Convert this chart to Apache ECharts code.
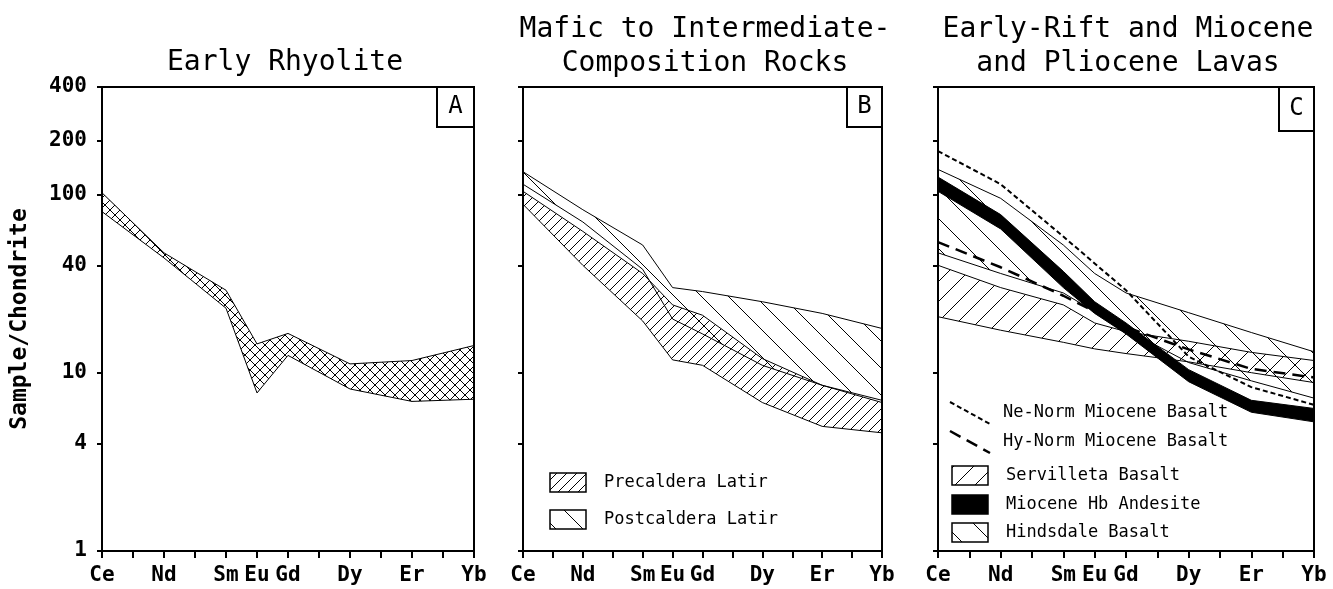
<!DOCTYPE html>
<html>
<head>
<meta charset="utf-8">
<title>REE patterns</title>
<script src="https://cdn.jsdelivr.net/npm/echarts@6/dist/echarts.min.js"></script>
<style>
    html, body { margin: 0; padding: 0; width: 100%; height: 100%; background: #fff; }
    #chart { width: 1333px; height: 589px; }
</style>
</head>
<body>
<div id="chart"></div>
<script>
// elements, placed by atomic number
var elemX = [58, 60, 62, 63, 64, 66, 68, 70];
var elemLabels = ['Ce', 'Nd', 'Sm', 'Eu', 'Gd', 'Dy', 'Er', 'Yb'];
var xTicks = [58, 59, 60, 61, 62, 63, 64, 65, 66, 67, 68, 69, 70];
var yTicks = [1, 4, 10, 40, 100, 200, 400];

// A - early rhyolite (range)
var rhyHigh = [102, 47, 29, 14.5, 16.6, 11.2, 11.7, 14.2];
var rhyLow  = [80, 44, 23, 7.7, 12.5, 8.1, 6.9, 7.1];

// B - latites (ranges)
var preHigh  = [104, 62, 36, 24, 21, 12, 8.5, 6.8];
var preLow   = [88, 40, 19.5, 11.8, 11, 6.8, 5.0, 4.6];
var postHigh = [134, 82, 52, 30, 28.5, 25, 21.5, 17.7];
var postLow  = [114, 70, 38, 20, 16.5, 11, 8.5, 7.0];

// C - rift lavas
var neNorm   = [175, 114, 58, 41, 29, 12.3, 8.3, 6.6];
var hyNorm   = [54, 39, 27, 22, 18, 13.5, 10.5, 9.4];
var servHigh = [40, 30, 24, 19, 17, 15, 13, 11.7];
var servLow  = [20.6, 17.3, 14.8, 13.6, 12.8, 11.5, 10, 8.8];
var hbHigh   = [125, 77, 37, 25, 19, 10.4, 7.0, 6.3];
var hbLow    = [104, 64, 30, 21.5, 16.5, 8.9, 6.0, 5.3];
var hindHigh = [138, 95, 52, 36, 28, 21.7, 16.8, 13.1];
var hindLow  = [47, 36, 28, 22, 17.5, 11.4, 9.0, 7.2];

var MONO = 'DejaVu Sans Mono';

// hatch fills
function hatch(step, fwd, back) {
    var c = document.createElement('canvas');
    c.width = c.height = step;
    var g = c.getContext('2d');
    g.strokeStyle = '#000';
    g.lineWidth = 1;
    g.beginPath();
    if (fwd) {
        g.moveTo(-1, step + 1); g.lineTo(step + 1, -1);
        g.moveTo(-1, 1); g.lineTo(1, -1);
        g.moveTo(step - 1, step + 1); g.lineTo(step + 1, step - 1);
    }
    if (back) {
        g.moveTo(-1, -1); g.lineTo(step + 1, step + 1);
        g.moveTo(step - 1, -1); g.lineTo(step + 1, 1);
        g.moveTo(-1, step - 1); g.lineTo(1, step + 1);
    }
    g.stroke();
    return { image: c, repeat: 'repeat' };
}
var crossFill = hatch(10, true, true);
var preFill   = hatch(10, true, false);
var postFill  = hatch(27, false, true);
var servFill  = hatch(20, true, false);
var hindFill  = hatch(30, false, true);

var grids = [
    { left: 102, top: 87, width: 372, height: 464 },
    { left: 523, top: 87, width: 359, height: 464 },
    { left: 938, top: 87, width: 376, height: 464 }
];

function xAxis(i) {
    return {
        type: 'value', gridIndex: i, min: 58, max: 70, interval: 1,
        axisLine: { show: true, lineStyle: { color: '#000', width: 2 } },
        axisTick: { show: true, length: 7, customValues: xTicks, lineStyle: { color: '#000', width: 2 } },
        axisLabel: {
            customValues: elemX, margin: 14, color: '#000',
            fontFamily: MONO, fontWeight: 'bold', fontSize: 21,
            formatter: function (v) { return elemLabels[elemX.indexOf(v)]; }
        },
        splitLine: { show: false }
    };
}
function yAxis(i) {
    return {
        type: 'log', gridIndex: i, min: 1, max: 400,
        name: i === 0 ? 'Sample/Chondrite' : '',
        nameLocation: 'middle', nameGap: 70,
        nameTextStyle: { fontFamily: MONO, fontWeight: 'bold', fontSize: 23, color: '#000' },
        axisLine: { show: true, lineStyle: { color: '#000', width: 2 } },
        axisTick: { show: true, length: 5, customValues: yTicks, lineStyle: { color: '#000', width: 2 } },
        axisLabel: {
            show: i === 0, customValues: yTicks, margin: 15, color: '#000',
            fontFamily: MONO, fontWeight: 'bold', fontSize: 21
        },
        splitLine: { show: false }
    };
}

function band(i, hi, lo, fill) {
    return {
        type: 'custom', xAxisIndex: i, yAxisIndex: i, silent: true,
        data: [[elemX[0], hi[0]]],
        renderItem: function (params, api) {
            var pts = [];
            for (var k = 0; k < elemX.length; k++) pts.push(api.coord([elemX[k], hi[k]]));
            for (var m = elemX.length - 1; m >= 0; m--) pts.push(api.coord([elemX[m], lo[m]]));
            return {
                type: 'polygon', shape: { points: pts },
                style: { fill: fill, stroke: '#000', lineWidth: 1 }
            };
        }
    };
}
function dashed(i, vals, dash, width) {
    var d = [];
    for (var k = 0; k < elemX.length; k++) d.push([elemX[k], vals[k]]);
    return {
        type: 'line', xAxisIndex: i, yAxisIndex: i, data: d, silent: true,
        showSymbol: false, z: 5,
        lineStyle: { color: '#000', width: width, type: dash }
    };
}

function titleAt(x, top, text) {
    return {
        text: text, left: x, top: top, textAlign: 'center',
        textStyle: { fontFamily: MONO, fontWeight: 'normal', fontSize: 28, lineHeight: 34, color: '#000' }
    };
}

function letterBox(x, y, w, h, t) {
    return [
        { type: 'rect', shape: { x: x, y: y, width: w, height: h }, z: 10,
          style: { fill: '#fff', stroke: '#000', lineWidth: 2 } },
        { type: 'text', x: x + w / 2, y: y + h / 2, z: 11,
          style: { text: t, fontFamily: MONO, fontSize: 24, fill: '#000', align: 'center', verticalAlign: 'middle' } }
    ];
}
function legendBox(x, y, fill, label) {
    return [
        { type: 'rect', shape: { x: x, y: y, width: 36, height: 19 }, z: 10,
          style: { fill: fill, stroke: '#000', lineWidth: 1.5 } },
        { type: 'text', x: x + 54, y: y + 10, z: 10,
          style: { text: label, fontFamily: MONO, fontSize: 17, fill: '#000', verticalAlign: 'middle' } }
    ];
}
function legendLine(x, y, dash, width, label) {
    return [
        { type: 'line', shape: { x1: x, y1: y - 11, x2: x + 40, y2: y + 11 }, z: 10,
          style: { stroke: '#000', lineWidth: width, lineDash: dash } },
        { type: 'text', x: x + 53, y: y, z: 10,
          style: { text: label, fontFamily: MONO, fontSize: 17, fill: '#000', verticalAlign: 'middle' } }
    ];
}

var graphics = [].concat(
    letterBox(437, 87, 37, 40, 'A'),
    letterBox(847, 87, 35, 40, 'B'),
    letterBox(1279, 87, 35, 44, 'C'),
    legendBox(550, 473, preFill, 'Precaldera Latir'),
    legendBox(550, 510, postFill, 'Postcaldera Latir'),
    legendLine(950, 413, [5, 3], 2, 'Ne-Norm Miocene Basalt'),
    legendLine(950, 442, [12, 7], 2.5, 'Hy-Norm Miocene Basalt'),
    legendBox(952, 466, servFill, 'Servilleta Basalt'),
    legendBox(952, 495, '#000', 'Miocene Hb Andesite'),
    legendBox(952, 523, hindFill, 'Hindsdale Basalt')
);

var chart = echarts.init(document.getElementById('chart'));
chart.setOption({
    animation: false,
    backgroundColor: '#fff',
    title: [
        titleAt(280, 41, 'Early Rhyolite'),
        titleAt(700, 8, 'Mafic to Intermediate-\nComposition Rocks'),
        titleAt(1123, 8, 'Early-Rift and Miocene\nand Pliocene Lavas')
    ],
    grid: grids.map(function (g) {
        return Object.assign({ show: true, borderColor: '#000', borderWidth: 2, backgroundColor: 'transparent' }, g);
    }),
    xAxis: [xAxis(0), xAxis(1), xAxis(2)],
    yAxis: [yAxis(0), yAxis(1), yAxis(2)],
    series: [
        band(0, rhyHigh, rhyLow, crossFill),
        band(1, preHigh, preLow, preFill),
        band(1, postHigh, postLow, postFill),
        band(2, hindHigh, hindLow, hindFill),
        band(2, servHigh, servLow, servFill),
        band(2, hbHigh, hbLow, '#000'),
        dashed(2, neNorm, [5, 3], 2),
        dashed(2, hyNorm, [12, 7], 2.5)
    ],
    graphic: graphics
});
</script>
</body>
</html>
